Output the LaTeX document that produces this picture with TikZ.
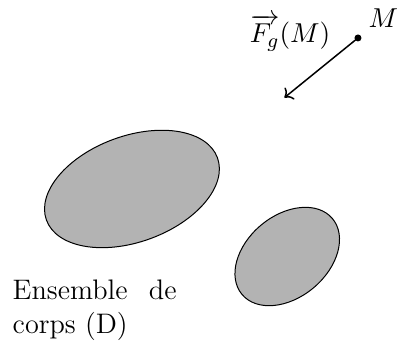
\documentclass[tikz,border=0pt]{standalone}
\usepackage{amsmath,amssymb}
\usepackage{tikz}
\usetikzlibrary{arrows.meta,positioning,calc}
\definecolor{Ink}{HTML}{000000}
\definecolor{BodyFill}{HTML}{B3B3B3}
\newcommand{\labelsize}{\fontsize{11.3}{13.5}\selectfont}
\tikzset{
  body/.style={draw=Ink,thin,fill=BodyFill},
  point/.style={circle,fill=Ink,inner sep=0pt,minimum size=2.8pt},
  force/.style={->,semithick,draw=Ink},
  lbl/.style={anchor=base,inner sep=0pt,font=\labelsize,text=Ink},
  caption/.style={text width=65.6pt,align=justify,inner sep=0pt,anchor=north west,text=Ink,font=\labelsize}
}
\begin{document}
\begin{tikzpicture}[x=1cm,y=1cm]
  \useasboundingbox (0,0) rectangle (5.626,4.824);
  % corps
  \draw[body,rotate around={20:(1.856,2.166)}] (1.856,2.166) ellipse (1.28 and 0.745);
  \draw[body,rotate around={40:(4.04,1.216)}] (4.04,1.216) ellipse (0.83 and 0.575);
  \node[caption] (corps) at (0.172,0.89) {Ensemble de corps (D)};
  % point M et force
  \node[point] (m) at (5.035,4.29) {};
  \coordinate (tip) at (4.0,3.45);
  \draw[force] (m.center) -- (tip);
  \node[lbl] (mlab) at (5.394,4.444) {$M$};
  \node[lbl] (flab) at (4.08,4.22) {$\overrightarrow{F_g}(M)$};
\end{tikzpicture}
\end{document}
